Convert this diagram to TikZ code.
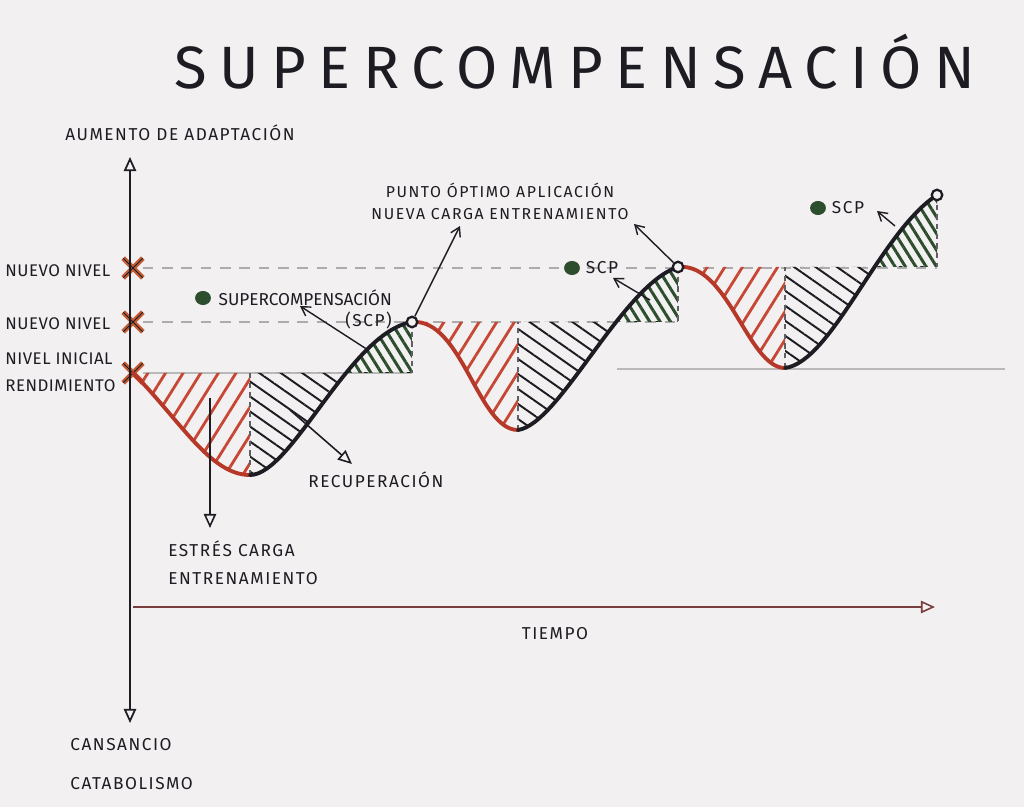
\documentclass[tikz,border=0pt]{standalone}
\usepackage{fontspec}
\setmainfont{Fira Sans}
\usetikzlibrary{positioning,arrows.meta,patterns.meta,shapes.misc,shapes.geometric}

\definecolor{paper}{RGB}{243,240,241}
\definecolor{ink}{RGB}{28,28,34}
\definecolor{stressred}{RGB}{182,56,40}
\definecolor{hatchred}{RGB}{198,72,52}
\definecolor{scpgreen}{RGB}{44,78,44}
\definecolor{lvlorange}{RGB}{196,92,52}
\definecolor{axisbrown}{RGB}{120,62,62}

\newcommand{\lblfont}{\fontsize{9.8}{15}\selectfont\addfontfeature{LetterSpace=9}}

\begin{document}
\begin{tikzpicture}[x=0.02cm, y=-0.02cm, >={Triangle[open,length=8pt,width=7pt]},
    lbl/.style={font=\lblfont, inner sep=0pt, align=left, text=ink},
    sidelbl/.style={lbl, anchor=west, font=\fontsize{9.6}{15.5}\selectfont\addfontfeature{LetterSpace=3}},
    lvlmark/.style={cross out, draw=lvlorange, double=ink, line width=1.2pt, double distance=0.6pt, minimum size=10pt, inner sep=0pt},
    lvlline/.style={gray!65, dash pattern=on 6pt off 5pt, line width=0.7pt},
    baseln/.style={gray!55, line width=0.7pt},
    vdash/.style={ink!70, dash pattern=on 3pt off 2.5pt, line width=0.6pt},
    stresscurve/.style={stressred, line width=2.2pt, line cap=round},
    recovcurve/.style={ink, line width=2.2pt, line cap=round},
    redhatch/.style={pattern={Lines[angle=58,distance=8.5pt,line width=1.6pt]}, pattern color=hatchred},
    blackhatch/.style={pattern={Lines[angle=-35,distance=7pt,line width=1.1pt]}, pattern color=ink},
    greenhatch/.style={pattern={Lines[angle=-58,distance=5pt,line width=1.7pt]}, pattern color=scpgreen},
    scpdot/.style={ellipse, fill=scpgreen, minimum width=9pt, minimum height=8pt, inner sep=0pt},
    peak/.style={circle, draw=ink, fill=paper, line width=1.3pt, minimum size=6pt, inner sep=0pt},
    barb/.style={ink, line width=0.8pt, -{Straight Barb[length=5pt,width=6pt]}}]

    % paper
    \fill[paper] (0,0) rectangle (1024,807);
    \useasboundingbox (0,0) rectangle (1024,807);

    \node[font=\fontsize{34}{34}\selectfont\addfontfeature{LetterSpace=21}, text=ink] (title) at (575,62) {SUPERCOMPENSACIÓN};

    % curve points
    \coordinate (s0) at (133,373);
    \coordinate (m1) at (250,475);
    \coordinate (p1) at (412,322);
    \coordinate (m2) at (518,430);
    \coordinate (p2) at (678,267);
    \coordinate (m3) at (785,368);
    \coordinate (p3) at (937,195);

    % levels
    \node[lvlmark] (n2) at (133,268) {};
    \node[lvlmark] (n1) at (133,322) {};
    \node[lvlmark] (n0) at (s0) {};
    \draw[lvlline] (n2) -- (p3 |- n2);
    \draw[lvlline] (n1) -- (p2 |- n1);
    \draw[baseln] (n0) -- (p1 |- s0);
    \coordinate (b1) at (617,369);
    \coordinate (b2) at (1005,369);
    \draw[baseln] (b1) -- (b2);

    % cycle 1
    \fill[redhatch] (s0) .. controls (180,420) and (210,475) .. (m1) -- (m1 |- s0) -- cycle;
    \begin{scope}
        \clip (m1) rectangle (p1 |- s0);
        \fill[blackhatch] (m1 |- s0) -- (m1) .. controls (292,475) and (350,332) .. (p1) -- (p1 |- s0) -- cycle;
    \end{scope}
    \begin{scope}
        \clip (m1 |- p1) rectangle (p1 |- s0);
        \fill[greenhatch] (m1 |- s0) -- (m1) .. controls (292,475) and (350,332) .. (p1) -- (p1 |- s0) -- cycle;
    \end{scope}

    % cycle 2
    \fill[redhatch] (p1) .. controls (462,318) and (478,430) .. (m2) -- (m2 |- p1) -- cycle;
    \begin{scope}
        \clip (m2) rectangle (p2 |- p1);
        \fill[blackhatch] (m2 |- p1) -- (m2) .. controls (560,424) and (622,285) .. (p2) -- (p2 |- p1) -- cycle;
    \end{scope}
    \begin{scope}
        \clip (m2 |- p2) rectangle (p2 |- p1);
        \fill[greenhatch] (m2 |- p1) -- (m2) .. controls (560,424) and (622,285) .. (p2) -- (p2 |- p1) -- cycle;
    \end{scope}

    % cycle 3
    \fill[redhatch] (p2) .. controls (728,262) and (748,368) .. (m3) -- (m3 |- p2) -- cycle;
    \begin{scope}
        \clip (m3) rectangle (p3 |- p2);
        \fill[blackhatch] (m3 |- p2) -- (m3) .. controls (832,362) and (880,232) .. (p3) -- (p3 |- p2) -- cycle;
    \end{scope}
    \begin{scope}
        \clip (m3 |- p3) rectangle (p3 |- p2);
        \fill[greenhatch] (m3 |- p2) -- (m3) .. controls (832,362) and (880,232) .. (p3) -- (p3 |- p2) -- cycle;
    \end{scope}

    \draw[vdash] (m1) -- (m1 |- s0);
    \draw[vdash] (p1) -- (p1 |- s0);
    \draw[vdash] (m2) -- (m2 |- p1);
    \draw[vdash] (p2) -- (p2 |- p1);
    \draw[vdash] (m3) -- (m3 |- p2);
    \draw[vdash] (p3) -- (p3 |- p2);

    % the curve
    \draw[stresscurve] (s0) .. controls (180,420) and (210,475) .. (m1);
    \draw[recovcurve] (m1) .. controls (292,475) and (350,332) .. (p1);
    \draw[stresscurve] (p1) .. controls (462,318) and (478,430) .. (m2);
    \draw[recovcurve] (m2) .. controls (560,424) and (622,285) .. (p2);
    \draw[stresscurve] (p2) .. controls (728,262) and (748,368) .. (m3);
    \draw[recovcurve] (m3) .. controls (832,362) and (880,232) .. (p3);

    % axes
    \coordinate (ytop) at (130,157);
    \coordinate (ybot) at (130,723);
    \draw[ink, line width=1pt, <->] (ybot) -- (ytop);
    \coordinate (xo) at (133,607);
    \coordinate (xe) at (935,607);
    \draw[axisbrown, line width=0.9pt, ->] (xo) -- (xe);

    \node[peak] (c1) at (p1) {};
    \node[peak] (c2) at (p2) {};
    \node[peak] (c3) at (p3) {};

    % labels
    \node[lbl, anchor=west] (aumento) at (65,133) {AUMENTO DE ADAPTACIÓN};
    \node[lbl, anchor=north west] (cansancio) at (70,738) {CANSANCIO\\[7pt]CATABOLISMO};
    \node[lbl] (tiempo) at (555,634) {TIEMPO};
    \node[sidelbl] (nuevo2) at (5,271) {NUEVO NIVEL};
    \node[sidelbl] (nuevo1) at (5,324) {NUEVO NIVEL};
    \node[sidelbl] (inicial) at (5,372) {NIVEL INICIAL\\RENDIMIENTO};
    \node[lbl, anchor=north west] (estres) at (168,540) {ESTRÉS CARGA\\[1pt]ENTRENAMIENTO};
    \node[lbl, anchor=west] (recup) at (308,480) {RECUPERACIÓN};
    \node[lbl, align=center, font=\fontsize{9}{12.5}\selectfont\addfontfeature{LetterSpace=10}] (punto) at (500,201) {PUNTO ÓPTIMO APLICACIÓN\\NUEVA CARGA ENTRENAMIENTO};

    \node[scpdot] (dot1) at (203,298) {};
    \node[lbl, right=4pt of dot1, font=\fontsize{9.8}{15}\selectfont] (scpname) {SUPERCOMPENSACIÓN};
    \node[lbl, below left=3pt and 0pt of scpname.south east] (scpabbr) {(SCP)};
    \node[scpdot] (dot2) at (572,268) {};
    \node[lbl, right=3pt of dot2] (scp2) {SCP};
    \node[scpdot] (dot3) at (818,208) {};
    \node[lbl, right=3pt of dot3] (scp3) {SCP};

    % arrows
    \coordinate (estresfrom) at (210,398);
    \coordinate (estrestip) at (210,528);
    \draw[ink, line width=0.9pt, ->] (estresfrom) -- (estrestip);
    \coordinate (recupfrom) at (290,410);
    \coordinate (recuptip) at (352,464);
    \draw[ink, line width=0.9pt, ->] (recupfrom) -- (recuptip);
    \coordinate (scp1from) at (368,350);
    \coordinate (scp1tip) at (300,306);
    \draw[barb] (scp1from) -- (scp1tip);
    \coordinate (scp2from) at (650,300);
    \coordinate (scp2tip) at (613,278);
    \draw[barb] (scp2from) -- (scp2tip);
    \coordinate (scp3from) at (895,226);
    \coordinate (scp3tip) at (877,211);
    \draw[barb] (scp3from) -- (scp3tip);
    \coordinate (punto1tip) at (460,226);
    \coordinate (punto2tip) at (634,224);
    \draw[barb] (c1) -- (punto1tip);
    \draw[barb] (c2) -- (punto2tip);
\end{tikzpicture}
\end{document}
